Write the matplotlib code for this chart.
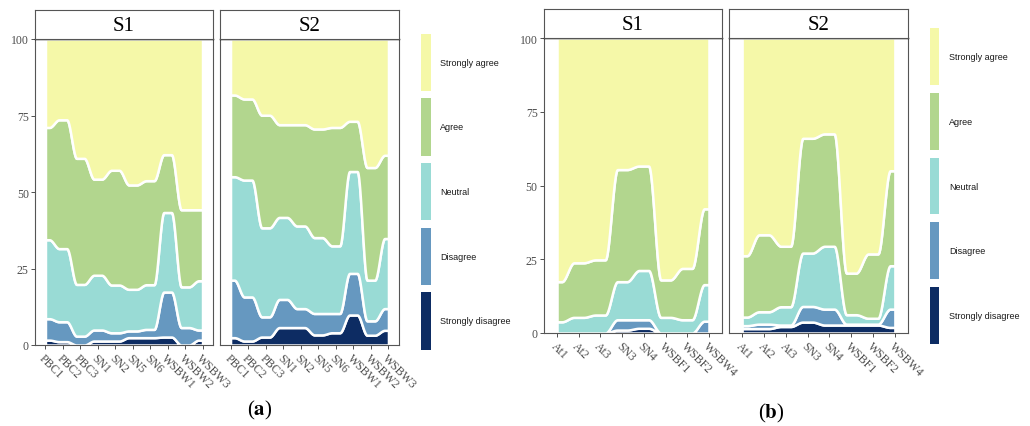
# stacked likert flows, two figures (a) and (b), each with S1/S2 facets
import numpy as np
import matplotlib
matplotlib.use("Agg")
import matplotlib.pyplot as plt
from matplotlib.patches import Rectangle

W, H = 1030, 427

levels = ["Strongly disagree", "Disagree", "Neutral", "Agree", "Strongly agree"]
colors = ["#0d2c63", "#6698c0", "#99dbd5", "#b2d68e", "#f5f8a8"]

cats_a = ["PBC1", "PBC2", "PBC3", "SN1", "SN2", "SN5", "SN6", "WSBW1", "WSBW2", "WSBW3"]
cats_b = ["At1", "At2", "At3", "SN3", "SN4", "WSBF1", "WSBF2", "WSBW4"]

# percentages per level (figure a, S1)
a1_sd = [1.6, 1.1, 0.0, 1.3, 1.3, 2.4, 2.4, 2.6, 0.0, 1.6]
a1_d = [7.0, 6.5, 2.9, 3.6, 2.7, 2.2, 2.7, 14.7, 5.7, 3.3]
a1_n = [25.8, 23.9, 16.9, 17.9, 15.6, 13.6, 14.6, 26.0, 13.3, 16.1]
a1_a = [36.7, 42.1, 41.2, 31.4, 37.5, 34.1, 34.0, 18.9, 25.2, 23.2]
a1_sa = [28.9, 26.4, 39.0, 45.8, 42.9, 47.7, 46.3, 37.8, 55.8, 55.8]

# figure a, S2
a2_sd = [2.4, 1.3, 2.6, 5.7, 5.7, 3.3, 4.0, 9.8, 3.2, 4.8]
a2_d = [18.8, 14.4, 6.6, 9.2, 6.2, 7.0, 6.3, 13.6, 4.7, 7.1]
a2_n = [33.8, 38.2, 29.1, 26.8, 27.0, 24.8, 22.1, 33.3, 13.3, 22.9]
a2_a = [26.7, 26.5, 36.8, 30.3, 33.1, 35.5, 38.7, 16.4, 36.8, 27.2]
a2_sa = [18.3, 19.6, 24.9, 28.0, 28.0, 29.4, 28.9, 26.9, 42.0, 38.0]

# figure b, S1
b1_sd = [0.0, 0.0, 0.0, 1.0, 1.6, 0.0, 0.0, 0.0]
b1_d = [0.0, 0.0, 0.0, 3.5, 2.9, 0.0, 0.0, 4.0]
b1_n = [3.8, 5.3, 6.1, 12.9, 16.7, 5.3, 4.5, 12.4]
b1_a = [13.6, 18.5, 18.7, 38.0, 35.4, 12.7, 17.4, 25.7]
b1_sa = [82.6, 76.2, 75.2, 44.6, 43.4, 82.0, 78.1, 57.9]

# figure b, S2
b2_sd = [1.5, 1.5, 2.2, 3.7, 2.7, 2.7, 2.7, 1.9]
b2_d = [1.0, 1.5, 0.5, 5.3, 5.4, 0.3, 0.3, 6.2]
b2_n = [2.9, 4.2, 6.2, 18.1, 21.3, 3.2, 2.0, 14.7]
b2_a = [20.8, 26.1, 20.5, 38.9, 38.1, 14.1, 21.8, 32.2]
b2_sa = [73.8, 66.7, 70.6, 34.0, 32.5, 79.7, 73.2, 45.0]

serif = "Liberation Serif"
sans = "Liberation Sans"


def px_axes(fig, x0, x1, y0, y1):
    return fig.add_axes([x0 / W, 1 - y1 / H, (x1 - x0) / W, (y1 - y0) / H])


# flat plateau around each category, smooth transition in between
def smooth_steps(vals, flat=0.22, n=30):
    xs, ys = [0.0], [vals[0]]
    t = np.linspace(0, 1, n)
    s = t * t * (3 - 2 * t)
    for i in range(len(vals) - 1):
        xs += list(i + flat + t * (1 - 2 * flat))
        ys += list(vals[i] + (vals[i + 1] - vals[i]) * s)
    xs.append(len(vals) - 1.0)
    ys.append(vals[-1])
    return np.array(xs), np.array(ys)


def draw_panel(fig, layers, cats, x0, x1, strip_top, top, bottom, title, show_y):
    ax = px_axes(fig, x0, x1, top, bottom)
    cum = np.zeros(len(cats))
    for vals, col in zip(layers, colors):
        lo = cum.copy()
        cum = cum + np.array(vals)
        xs, ylo = smooth_steps(lo)
        _, yhi = smooth_steps(cum)
        ax.fill_between(xs, ylo, yhi, facecolor=col, edgecolor="white",
                        linewidth=1.8, zorder=2)
    ax.set_xlim(-0.6, len(cats) - 1 + 0.6)
    ax.set_ylim(0, 100)
    ax.set_xticks(range(len(cats)))
    ax.set_xticklabels(cats, rotation=-45, ha="left", va="top",
                       rotation_mode="anchor", fontfamily=serif,
                       fontsize=8.5, color="#4d4d4d")
    ax.set_yticks([0, 25, 50, 75, 100])
    if show_y:
        ax.set_yticklabels(["0", "25", "50", "75", "100"], fontfamily=serif,
                           fontsize=8.5, color="#4d4d4d")
    else:
        ax.tick_params(axis="y", left=False, labelleft=False)
    ax.tick_params(axis="both", length=3, width=0.6, color="#333333", pad=1.5)
    for side in ["left", "right", "bottom"]:
        ax.spines[side].set_color("#555555")
        ax.spines[side].set_linewidth(0.8)
    ax.spines["top"].set_color("black")
    ax.spines["top"].set_linewidth(1.0)

    st = px_axes(fig, x0, x1, strip_top, top)
    st.set_xticks([])
    st.set_yticks([])
    for side in st.spines.values():
        side.set_color("#555555")
        side.set_linewidth(0.8)
    st.text(0.5, 0.45, title, transform=st.transAxes, ha="center", va="center",
            fontfamily=serif, fontsize=15)
    return ax


def draw_legend(fig, bx0, bx1, tx, spans):
    for (y0, y1), col, lab in zip(spans, colors[::-1], levels[::-1]):
        fig.patches.append(Rectangle((bx0 / W, 1 - y1 / H), (bx1 - bx0) / W,
                                     (y1 - y0) / H, transform=fig.transFigure,
                                     facecolor=col, edgecolor="none"))
        fig.text(tx / W, 1 - (y0 + y1) / 2 / H, lab, ha="left", va="center",
                 fontfamily=sans, fontsize=6.5, color="#1a1a1a")


fig = plt.figure(figsize=(W / 100, H / 100), dpi=100)
plt.rcParams["mathtext.fontset"] = "stix"

draw_panel(fig, [a1_sd, a1_d, a1_n, a1_a, a1_sa], cats_a, 35, 213, 11, 40, 346, "S1", True)
draw_panel(fig, [a2_sd, a2_d, a2_n, a2_a, a2_sa], cats_a, 220, 399, 11, 40, 346, "S2", False)
draw_panel(fig, [b1_sd, b1_d, b1_n, b1_a, b1_sa], cats_b, 544, 722, 10, 39, 334, "S1", True)
draw_panel(fig, [b2_sd, b2_d, b2_n, b2_a, b2_sa], cats_b, 729, 908, 10, 39, 334, "S2", False)

draw_legend(fig, 421, 431, 440, [(35, 92), (99, 157), (164, 221), (229, 286), (293, 351)])
draw_legend(fig, 930, 939, 949, [(29, 86), (94, 151), (159, 215), (223, 280), (288, 345)])

fig.text(260 / W, 1 - 410 / H, r"($\mathbf{a}$)", ha="center", va="center",
         fontfamily=serif, fontsize=15)
fig.text(771 / W, 1 - 413 / H, r"($\mathbf{b}$)", ha="center", va="center",
         fontfamily=serif, fontsize=15)

fig.savefig("out.png", dpi=100)
